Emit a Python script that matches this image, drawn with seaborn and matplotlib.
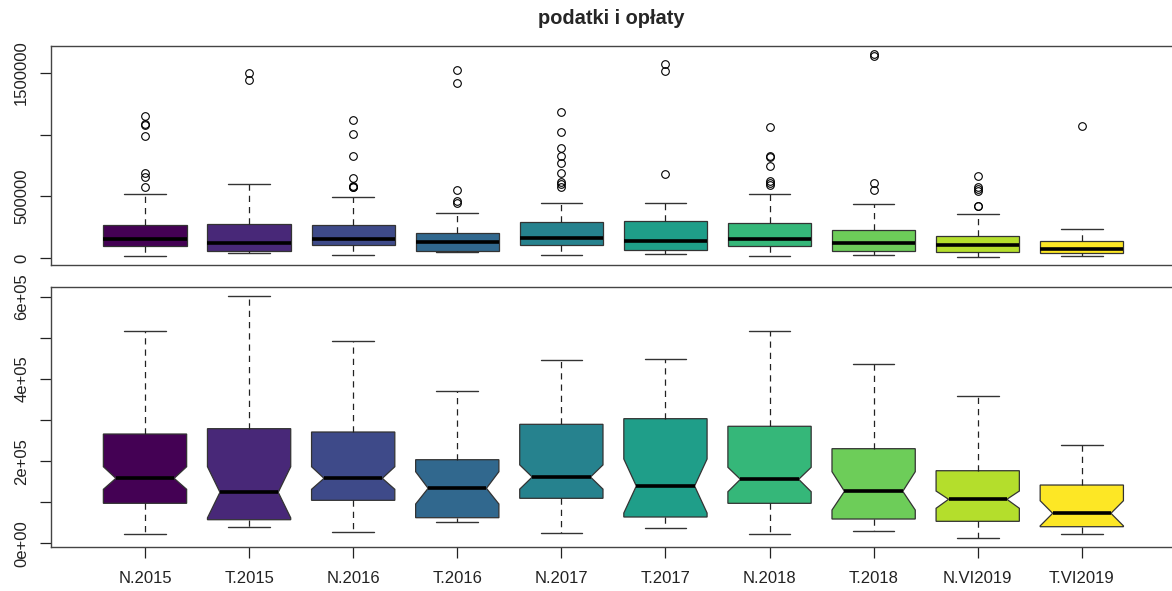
import numpy as np
import matplotlib
matplotlib.use("Agg")
import matplotlib.pyplot as plt
from matplotlib.path import Path
import seaborn as sns

# --- dane ---
categories = ['N.2015', 'T.2015', 'N.2016', 'T.2016', 'N.2017',
              'T.2017', 'N.2018', 'T.2018', 'N.VI2019', 'T.VI2019']

whisk_lo = [21900, 40400, 27500, 51800, 25100, 38000, 21900, 29900, 13600, 21900]
q1 = [97300, 57400, 104600, 62300, 109500, 64000, 97300, 59100, 53500, 40400]
median = [158100, 124100, 158100, 133800, 161300, 139400, 155700, 126500, 107100, 73000]
q3 = [265900, 278900, 270800, 203400, 289500, 303200, 284700, 230200, 176600, 141800]
whisk_hi = [516500, 602400, 492200, 369800, 446700, 449100, 516500, 436200, 358400, 239200]
notch_lo = [131400, 61900, 131400, 95600, 131800, 73700, 125500, 81000, 85200, 42400]
notch_hi = [186300, 186300, 186300, 174200, 190800, 205100, 184900, 174200, 127200, 103600]

outliers = [
    [1150000, 1085000, 1075000, 985000, 690000, 655000, 580000],
    [1496000, 1442000],
    [1121000, 1003000, 830000, 652000, 585000, 577000, 572000],
    [1521000, 1416000, 552000, 460000, 444000],
    [1186000, 1024000, 892000, 830000, 773000, 687000, 620000, 601000, 579000],
    [1574000, 1515000, 684000],
    [1060000, 827000, 819000, 749000, 627000, 611000, 592000],
    [1650000, 1631000, 606000, 552000],
    [668000, 574000, 558000, 544000, 425000, 420000],
    [1068000],
]

colors = ['#440154', '#482878', '#3E4A89', '#31688E', '#26828E',
          '#1F9E89', '#35B779', '#6DCD59', '#B4DE2C', '#FDE725']

top_ticks = [0, 500000, 1000000, 1500000]
top_ticklabels = ['0', '500000', '', '1500000']
bot_ticks = [0, 100000, 200000, 300000, 400000, 500000, 600000]
bot_ticklabels = ['0e+00', '', '2e+05', '', '4e+05', '', '6e+05']

title = 'podatki i opłaty'

# --- styl ---
sns.set_style("white")
plt.rcParams['font.family'] = ['Liberation Sans', 'DejaVu Sans']
palette = sns.color_palette(colors)

W, H = 1172, 591
fig = plt.figure(figsize=(W / 100, H / 100), dpi=100)
ax_top = fig.add_axes([50.7 / W, 1 - 264.7 / H, (1176 - 50.7) / W, (264.7 - 45.7) / H])
ax_bot = fig.add_axes([50.7 / W, 1 - 547.3 / H, (1176 - 50.7) / W, (547.3 - 286.7) / H])

positions = np.arange(1, len(categories) + 1)
box_w = 0.8
notch_half = 0.7 * box_w / 2


def make_stats(with_fliers, with_notch):
    stats = []
    for i, lab in enumerate(categories):
        d = dict(label=lab, whislo=whisk_lo[i], q1=q1[i], med=median[i],
                 q3=q3[i], whishi=whisk_hi[i],
                 fliers=outliers[i] if with_fliers else [])
        if with_notch:
            d['cilo'] = notch_lo[i]
            d['cihi'] = notch_hi[i]
        stats.append(d)
    return stats


def draw(ax, with_fliers, with_notch):
    art = ax.bxp(make_stats(with_fliers, with_notch), positions=positions,
                 widths=box_w, capwidths=box_w / 2, shownotches=with_notch,
                 patch_artist=True, showfliers=with_fliers,
                 boxprops=dict(edgecolor='#333333', linewidth=0.9),
                 whiskerprops=dict(color='#222222', linewidth=0.9, linestyle=(0, (5, 4))),
                 capprops=dict(color='#333333', linewidth=1.0),
                 medianprops=dict(color='black', linewidth=2.6, solid_capstyle='butt'),
                 flierprops=dict(marker='o', markerfacecolor='none',
                                 markeredgecolor='black', markersize=5.5,
                                 markeredgewidth=0.8))
    for i, box in enumerate(art['boxes']):
        box.set_facecolor(palette[i])
        if with_notch:
            # wciecie jak w R (szersze niz w matplotlib)
            p = box.get_path()
            v = p.vertices.copy()
            v[3, 0] = positions[i] + notch_half
            v[8, 0] = positions[i] - notch_half
            box.set_path(Path(v, p.codes))
            art['medians'][i].set_xdata([positions[i] - notch_half, positions[i] + notch_half])


draw(ax_top, True, False)
draw(ax_bot, False, True)

xl = (0.094, 10.905)
for ax in (ax_top, ax_bot):
    ax.set_xlim(*xl)
    for s in ax.spines.values():
        s.set_color('#444444')
        s.set_linewidth(1.0)
    ax.tick_params(axis='y', length=8, width=0.9, color='#222222', pad=7.5,
                   labelsize=12, labelcolor='#222222', left=True)
    ax.grid(False)

ax_top.set_ylim(-52000, 1718000)
ax_top.set_yticks(top_ticks)
ax_top.set_yticklabels(top_ticklabels, rotation=90, va='center')
ax_top.set_xticks([])

ax_bot.set_ylim(-9700, 624300)
ax_bot.set_yticks(bot_ticks)
ax_bot.set_yticklabels(bot_ticklabels, rotation=90, va='center')
ax_bot.set_xticks(positions)
ax_bot.set_xticklabels(categories)
ax_bot.tick_params(axis='x', length=8, width=0.9, color='#222222', pad=9,
                   labelsize=12, labelcolor='#222222', bottom=True)

fig.text(611 / W, 1 - 18 / H, title, ha='center', va='center',
         fontsize=14.4, fontweight='bold')

fig.savefig('out.png', dpi=100)
